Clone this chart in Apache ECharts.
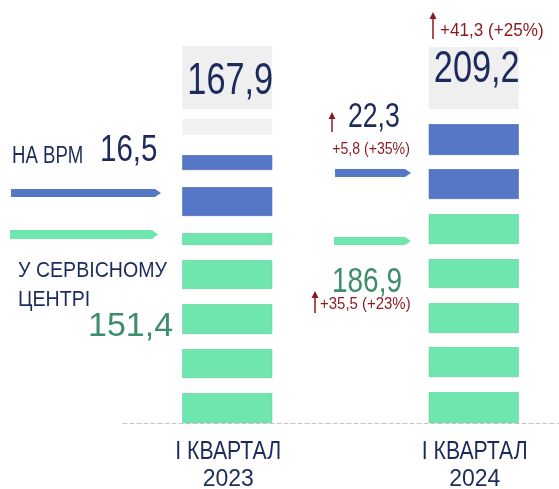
<!DOCTYPE html>
<html>
<head>
<meta charset="utf-8">
<script src="https://cdn.jsdelivr.net/npm/echarts@6/dist/echarts.min.js"></script>
<style>
  html, body { margin: 0; padding: 0; background: #fff; }
  #chart { width: 559px; height: 489px; }
</style>
</head>
<body>
<div id="chart"></div>
<script>
// підписи по осі X
const categories = ['І КВАРТАЛ', 'І КВАРТАЛ'];
const years = ['2023', '2024'];
// значення
const totals = [167.9, 209.2];
const vrm = [16.5, 22.3];
const service = [151.4, 186.9];

// смуги стовпців знизу догори (висота, тип): g - зелена, b - синя, w - проміжок, l - світло-сіра, t - шапка з підсумком
const stripes2023 = [30, 15, 29, 15, 30, 15, 29, 15, 12, 17, 29, 17, 15, 20, 16, 10, 63];
const kinds2023   = ['g','w','g','w','g','w','g','w','g','w','b','w','b','w','l','w','t'];
const stripes2024 = [31, 15, 30, 14, 30, 15, 29, 15, 30, 15, 30, 14, 31, 15, 62];
const kinds2024   = ['g','w','g','w','g','w','g','w','g','w','b','w','b','w','t'];

const NAVY = '#1c2a5c';
const RED = '#8b1a1f';
const GREEN_TXT = '#3d8d6b';
const BLUE = '#5677c6';
const GREEN = '#6fe6ae';
const FONT = '"Liberation Sans", Arial, sans-serif';
const colors = { g: GREEN, b: BLUE, w: '#ffffff', l: '#f2f2f2', t: '#efefef' };
const borders = { g: '#5fcf9c', b: '#4a69b3', w: '#ffffff', l: '#f2f2f2', t: '#efefef' };

const fmt = (v) => v.toFixed(1).replace('.', ',');
const diff = (a, b) => '+' + fmt(b - a) + ' (+' + Math.round((b - a) / a * 100) + '%)';

const stripes = [stripes2023, stripes2024];
const kinds = [kinds2023, kinds2024];

const n = Math.max(stripes2023.length, stripes2024.length);
const series = [];
for (let i = 0; i < n; i++) {
    const data = [0, 1].map(function (b) {
        if (i >= stripes[b].length) return '-';
        const k = kinds[b][i];
        return {
            value: stripes[b][i],
            itemStyle: { color: colors[k], borderColor: borders[k], borderWidth: k === 'g' || k === 'b' ? 0.6 : 0 }
        };
    });
    series.push({ type: 'bar', stack: 'bar', barWidth: 90, silent: true, data: data });
}

function arrow(x1, x2, y, h, color) {
    return {
        type: 'polygon', z: 100,
        shape: { points: [[x1, y - h / 2], [x2 - 6, y - h / 2], [x2, y], [x2 - 6, y + h / 2], [x1, y + h / 2]] },
        style: { fill: color }
    };
}
function upArrow(x, y1, y2) {
    return [
        { type: 'line', z: 100, shape: { x1: x, y1: y1 + 5, x2: x, y2: y2 }, style: { stroke: RED, lineWidth: 1.5 } },
        { type: 'polygon', z: 100, shape: { points: [[x - 3.5, y1 + 7], [x, y1], [x + 3.5, y1 + 7]] }, style: { fill: RED } }
    ];
}
function txt(x, y, text, size, color, align, sx) {
    return {
        type: 'text', z: 100, x: x, y: y, scaleX: sx || 0.82,
        style: { text: text, font: size + 'px ' + FONT, fill: color, align: align || 'left', verticalAlign: 'middle' }
    };
}

const chart = echarts.init(document.getElementById('chart'));
chart.setOption({
    animation: false,
    backgroundColor: '#ffffff',
    grid: [
        { left: 104, width: 493, top: 0, bottom: 66, outerBoundsMode: 'none' },
        { left: 123, right: 0, top: 0, bottom: 66, outerBoundsMode: 'none' }
    ],
    xAxis: [
        {
            type: 'category',
            gridIndex: 0,
            data: categories.map((c, i) => c + ' ' + years[i]),
            axisLine: { show: false },
            axisTick: { show: false },
            axisLabel: { show: false }
        },
        {
            type: 'value',
            gridIndex: 1,
            min: 0, max: 1,
            axisLine: { show: true, lineStyle: { color: '#c4c4c4', type: [4, 3], width: 1 } },
            axisTick: { show: false },
            axisLabel: { show: false },
            splitLine: { show: false }
        }
    ],
    yAxis: [
        { type: 'value', gridIndex: 0, min: 0, max: 423, show: false },
        { type: 'value', gridIndex: 1, min: 0, max: 1, show: false }
    ],
    series: series
});

// підписи під стовпцями і підсумки над ними — від позицій на осях
const graphics = [];
[0, 1].forEach(function (b) {
    const cx = chart.convertToPixel({ xAxisIndex: 0 }, b);
    const sum = stripes[b].reduce((a, v) => a + v, 0);
    const topY = chart.convertToPixel({ yAxisIndex: 0 }, sum);
    graphics.push(txt(cx + 1, 452, categories[b], 25, NAVY, 'center', 0.85));
    graphics.push(txt(cx + 1, 480, years[b], 23, NAVY, 'center', 1.0));
    graphics.push(txt(cx + 3, topY + (b === 0 ? 36 : 23), fmt(totals[b]), 44, NAVY, 'center', 0.78));
});

graphics.push(
    txt(12, 157, 'НА ВРМ', 23, NAVY, 'left', 0.81),
    txt(100, 151, fmt(vrm[0]), 36, NAVY, 'left', 0.82),
    arrow(11, 161, 193, 8, BLUE),
    arrow(10, 158, 234.5, 9, GREEN),
    txt(18, 271, 'У СЕРВІСНОМУ', 22, NAVY, 'left', 0.89),
    txt(18, 300, 'ЦЕНТРІ', 22, NAVY, 'left', 0.89),
    txt(88, 327, fmt(service[0]), 34, GREEN_TXT, 'left', 1.0),

    txt(348, 117, fmt(vrm[1]), 35, NAVY, 'left', 0.76),
    txt(371, 149, diff(vrm[0], vrm[1]), 17, RED, 'center', 0.83),
    arrow(335, 411, 173, 8, BLUE),
    arrow(334, 411, 241, 8, GREEN),
    txt(367, 282, fmt(service[1]), 35, GREEN_TXT, 'center', 0.8),
    txt(320, 304, diff(service[0], service[1]), 17, RED, 'left', 0.88),

    txt(440, 31, diff(totals[0], totals[1]), 18, RED, 'left', 0.95)
);
upArrow(332, 112, 132).concat(upArrow(315, 291, 313), upArrow(433, 12, 39)).forEach(g => graphics.push(g));

chart.setOption({ graphic: graphics });
</script>
</body>
</html>
